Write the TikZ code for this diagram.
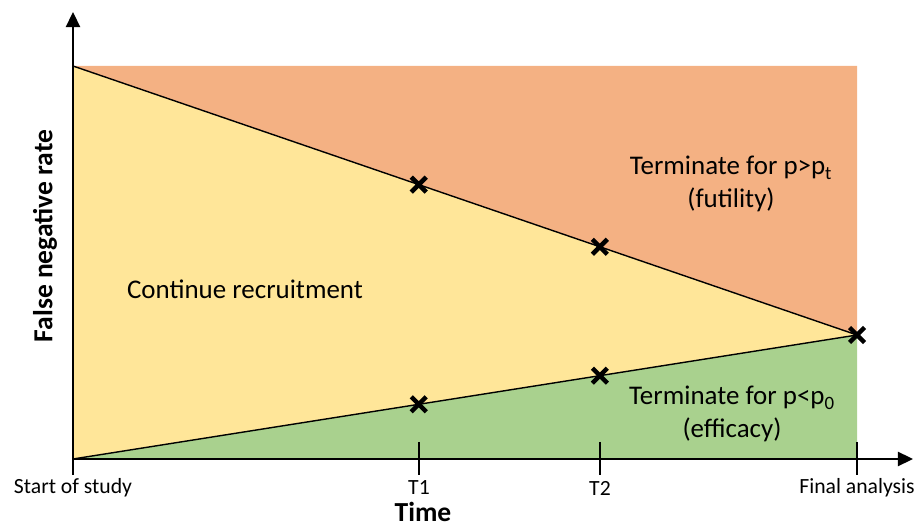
\documentclass[tikz,border=0pt]{standalone}
\usepackage{fontspec}
\setmainfont{Carlito}
\usetikzlibrary{arrows.meta,positioning,calc,shapes.misc}

\definecolor{futcol}{HTML}{F4B183}
\definecolor{contcol}{HTML}{FFE699}
\definecolor{effcol}{HTML}{A9D18E}

\begin{document}
\begin{tikzpicture}[
    x=0.03cm, y=0.03cm,
    every node/.style={font=\fontsize{18.5}{22}\selectfont},
    axisline/.style={-{Triangle[length=13pt,width=12pt]}, line width=2.5pt},
    boundline/.style={line width=1.2pt},
    tickline/.style={line width=1.1pt},
    crossmark/.style={cross out, draw, line width=3.8pt, minimum size=9pt, inner sep=0pt},
    axislabel/.style={font=\fontsize{23.5}{26}\selectfont\bfseries, inner sep=0pt},
    regionlabel/.style={font=\fontsize{23}{28}\selectfont, align=center}
]
\useasboundingbox (0,0) rectangle (917,528);

% corners of the plot region
\coordinate (orig) at (73,69);
\coordinate (topl) at (73,462);
\coordinate (topr) at (857,462);
\coordinate (botr) at (857,69);
\coordinate (fin) at (857,193);

% regions
\fill[futcol] (topl) -- (topr) -- (fin) -- cycle;
\fill[contcol] (topl) -- (fin) -- (orig) -- cycle;
\fill[effcol] (orig) -- (fin) -- (botr) -- cycle;

% boundaries
\draw[boundline] (topl) -- (fin);
\draw[boundline] (orig) -- (fin);

% axes
\coordinate (yend) at (73,516);
\coordinate (xend) at (913,69);
\draw[axisline] (orig) -- (yend);
\draw[axisline] (orig) -- (xend);

% ticks and labels
\draw[tickline] (73,69) -- (73,53);
\node (lstart) at (73,40) {Start of study};
\foreach \tx/\tn/\tl in {419/t1/T1, 600/t2/T2, 857/tf/Final analysis} {
    \draw[tickline] (\tx,86) -- (\tx,53);
    \node (l\tn) at (\tx,40) {\tl};
}
\node[axislabel] (xlab) at (423,16) {Time};
\node[axislabel, rotate=90] (ylab) at (45,292) {False negative rate};

% interim analyses
\coordinate (up1) at ($(topl)!0.441!(fin)$);
\coordinate (up2) at ($(topl)!0.672!(fin)$);
\coordinate (lo1) at ($(orig)!0.441!(fin)$);
\coordinate (lo2) at ($(orig)!0.672!(fin)$);
\node[crossmark] (xu1) at (up1) {};
\node[crossmark] (xu2) at (up2) {};
\node[crossmark] (xl1) at (lo1) {};
\node[crossmark] (xl2) at (lo2) {};
\node[crossmark] (xf) at (fin) {};

% region labels
\node[regionlabel] (cont) at (245,239) {Continue recruitment};
\node[regionlabel] (fut) at (731,344) {Terminate for p>p\textsubscript{t}\\(futility)};
\node[regionlabel] (eff) at (732,114) {Terminate for p<p\textsubscript{0}\\(efficacy)};
\end{tikzpicture}
\end{document}
